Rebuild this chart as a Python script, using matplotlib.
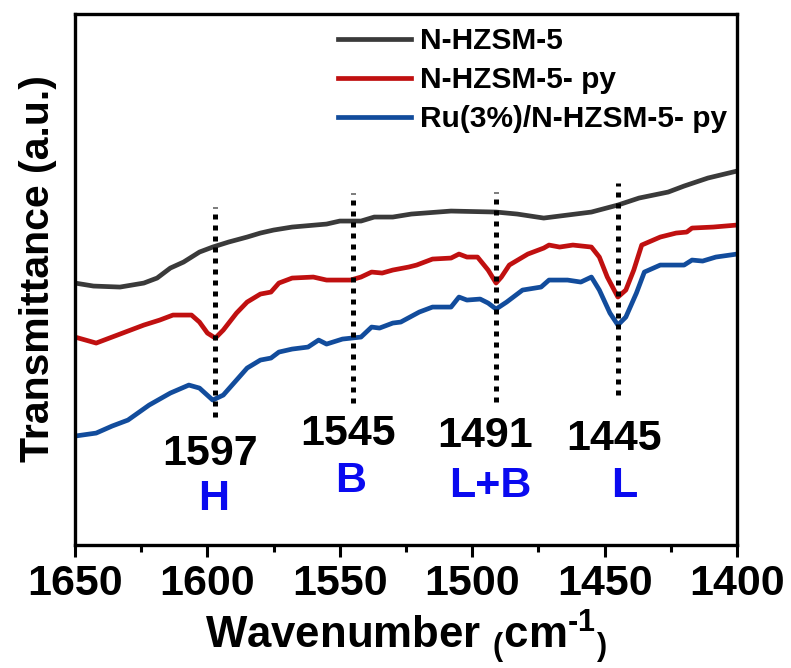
import matplotlib
matplotlib.use('Agg')
import matplotlib.pyplot as plt

# IR spectra of adsorbed pyridine
wn_hzsm = [1650, 1643, 1633, 1624, 1619, 1614, 1609, 1603, 1598, 1592, 1585, 1580, 1575, 1568, 1555, 1550,
           1542, 1537, 1530, 1523, 1508, 1491, 1483, 1473, 1464, 1455, 1445, 1437, 1426, 1420, 1411, 1400]
t_hzsm = [262, 259, 258, 262, 267, 277, 283, 293, 298, 303, 308, 312, 315, 318, 321, 324,
          324, 328, 328, 331, 334, 333, 331, 327, 330, 333, 340, 347, 353, 359, 367, 374]

wn_py = [1650, 1642, 1636, 1624, 1618, 1613, 1606, 1603, 1600, 1597, 1594, 1589, 1585, 1580, 1576, 1573,
         1568, 1560, 1555, 1546, 1542, 1538, 1534, 1530, 1524, 1521, 1515, 1508, 1505, 1502, 1498, 1494,
         1491, 1489, 1486, 1479, 1473, 1471, 1467, 1462, 1455, 1452, 1449, 1445, 1442, 1439, 1436, 1429,
         1423, 1419, 1417, 1409, 1400]
t_py = [208, 202, 208, 220, 225, 230, 230, 223, 212, 207, 215, 232, 243, 251, 253, 262,
        267, 268, 265, 265, 268, 273, 272, 275, 278, 280, 286, 287, 291, 288, 288, 275,
        262, 268, 280, 291, 297, 300, 298, 300, 298, 288, 268, 248, 255, 275, 300, 308,
        312, 313, 317, 318, 320]

wn_ru = [1650, 1642, 1636, 1630, 1622, 1614, 1607, 1603, 1598, 1594, 1590, 1585, 1580, 1576, 1573, 1568,
         1562, 1558, 1555, 1549, 1542, 1538, 1535, 1530, 1527, 1520, 1515, 1508, 1505, 1502, 1497, 1494,
         1491, 1487, 1481, 1474, 1471, 1464, 1459, 1455, 1452, 1448, 1445, 1442, 1438, 1435, 1429, 1420,
         1417, 1413, 1408, 1400]
t_ru = [109, 112, 119, 125, 140, 152, 160, 157, 145, 150, 162, 177, 185, 187, 193, 196,
        198, 205, 201, 206, 208, 218, 217, 222, 223, 233, 238, 238, 248, 245, 246, 242,
        236, 243, 255, 258, 265, 265, 263, 268, 255, 232, 220, 228, 252, 273, 280, 280,
        285, 284, 288, 291]

labels = ['N-HZSM-5', 'N-HZSM-5- py', 'Ru(3%)/N-HZSM-5- py']

# band positions and acid site assignment
peaks = [1597, 1545, 1491, 1445]
sites = ['H', 'B', 'L+B', 'L']

plt.rcParams['font.family'] = ['Liberation Sans', 'DejaVu Sans']
plt.rcParams['font.weight'] = 'bold'
plt.rcParams['mathtext.fontset'] = 'custom'
plt.rcParams['mathtext.rm'] = 'Liberation Sans:bold'
plt.rcParams['mathtext.bf'] = 'Liberation Sans:bold'
plt.rcParams['mathtext.it'] = 'Liberation Sans:bold:italic'

fig = plt.figure(figsize=(7.91, 6.68), dpi=100)
ax = fig.add_axes([0.0948, 0.184, 0.837, 0.795])

ax.plot(wn_hzsm, t_hzsm, color='#3a3a3a', lw=3.4, label=labels[0])
ax.plot(wn_py, t_py, color='#c01010', lw=3.4, label=labels[1])
ax.plot(wn_ru, t_ru, color='#124c9c', lw=3.4, label=labels[2])

# dotted guides at the bands (square dots, drawn over the curves)
line_lo = [128, 142, 143, 150]
line_hi = [338, 352, 353, 362]
for p, lo, hi in zip(peaks, line_lo, line_hi):
    ax.plot([p, p], [lo, hi], color='black', lw=3.6, dashes=(1.0, 1.2),
            dash_capstyle='butt', zorder=5)

num_dx = [2, 2, 4, 1.5]
num_y = [80, 100, 98, 95]
site_dx = [0.5, 1, 2, -2.5]
site_y = [35, 53, 48, 48]
for i, p in enumerate(peaks):
    ax.text(p + num_dx[i], num_y[i], str(p), fontsize=31, fontweight='bold',
            ha='center', va='baseline', color='black')
    ax.text(p + site_dx[i], site_y[i], sites[i], fontsize=31, fontweight='bold',
            ha='center', va='baseline', color='#0a0af0')

ax.set_xlim(1650, 1400)
ax.set_ylim(0, 531)
ax.set_xticks([1650, 1600, 1550, 1500, 1450, 1400])
ax.set_xticks([1625, 1575, 1525, 1475, 1425], minor=True)
ax.set_yticks([])
ax.tick_params(axis='x', which='major', direction='out', length=8.5, width=2.2,
               labelsize=31, pad=5)
ax.tick_params(axis='x', which='minor', direction='out', length=5, width=2.2)
for s in ax.spines.values():
    s.set_linewidth(2.4)

ax.set_xlabel(r'Wavenumber $\mathrm{{}_{(}cm^{\text{-1}}{}_{)}}$', fontsize=31.5, fontweight='bold',
              labelpad=2)
ax.set_ylabel('Transmittance (a.u.)', fontsize=29.5, fontweight='bold')
ax.yaxis.set_label_coords(-0.027, 0.52)

ax.legend(loc='upper left', bbox_to_anchor=(0.397, 0.975), frameon=False,
          handlelength=2.45, handletextpad=0.3, labelspacing=0.37,
          borderpad=0, borderaxespad=0, prop={'weight': 'bold', 'size': 21.5})

fig.savefig('out.png', dpi=100)
